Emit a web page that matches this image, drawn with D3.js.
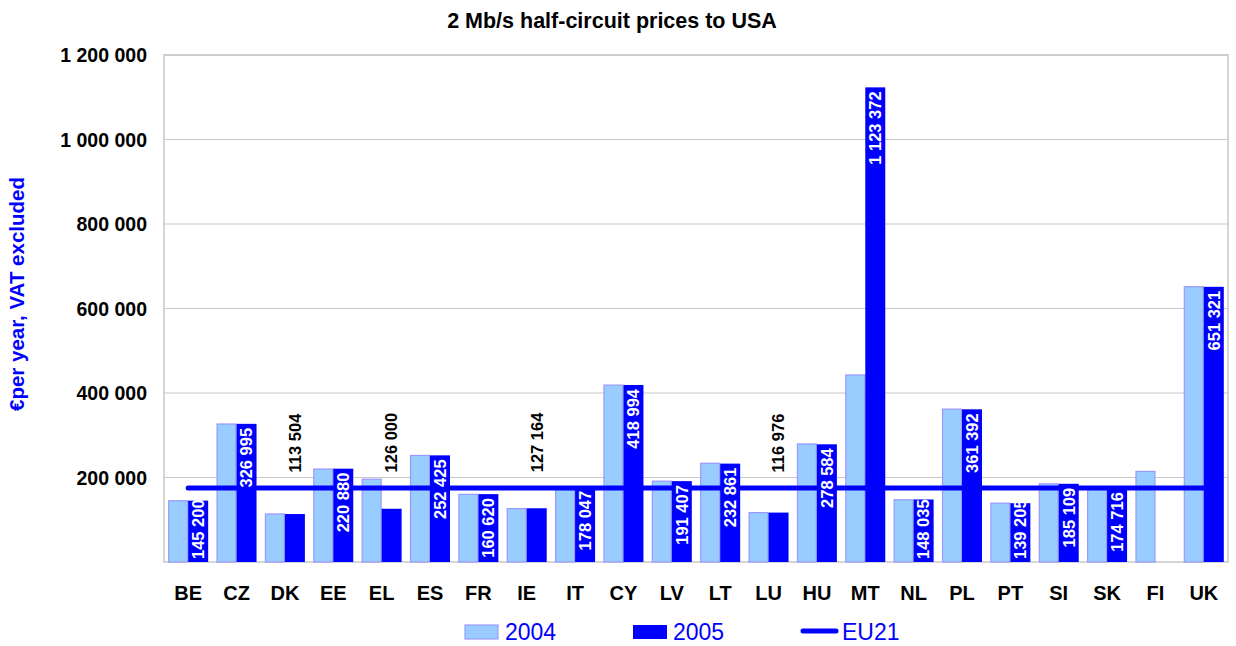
<!DOCTYPE html>
<html>
<head>
<meta charset="utf-8">
<script src="https://cdn.jsdelivr.net/npm/d3@7/dist/d3.min.js"></script>
<style>
  html, body { margin: 0; padding: 0; background: #ffffff; }
  svg { display: block; font-family: "Liberation Sans", Arial, sans-serif; }
</style>
</head>
<body>
<svg id="chart" width="1236" height="646"></svg>
<script>
// Countries on the category axis
const categories = ["BE","CZ","DK","EE","EL","ES","FR","IE","IT","CY","LV","LT","LU","HU","MT","NL","PL","PT","SI","SK","FI","UK"];
// Annual price of a 2 Mb/s half-circuit, EUR, VAT excluded
const prices2004 = [145000, 326600, 113700, 220100, 196000, 252200, 160100, 126500, 172000, 418700, 191300, 233700, 116900, 279400, 442700, 147300, 361800, 139300, 184900, 172000, 214500, 651600];
const prices2005 = [145200, 326995, 113504, 220880, 126000, 252425, 160620, 127164, 178047, 418994, 191407, 232861, 116976, 278584, 1123372, 148035, 361392, 139205, 185109, 174716, null, 651321];
// EU21 average
const eu21 = 175300;
const seriesNames = ["2004", "2005", "EU21"];
const yTicks = [200000, 400000, 600000, 800000, 1000000, 1200000];

const svg = d3.select("#chart");
const M = { left: 164, right: 1228, top: 55, bottom: 562 };

const fmt = d3.formatLocale({ decimal: ",", thousands: " ", grouping: [3], currency: ["", "€"] }).format(",d");

const x = d3.scaleBand().domain(categories).range([M.left, M.right]).paddingInner(0).paddingOuter(0);
const x1 = d3.scaleBand().domain(["2004", "2005"]).range([0, x.bandwidth()]).paddingInner(0).paddingOuter(0.21);
const y = d3.scaleLinear().domain([0, 1200000]).range([M.bottom, M.top]);

// Title
svg.append("text")
  .attr("x", 612).attr("y", 28)
  .attr("text-anchor", "middle")
  .style("font-weight", "bold").style("font-size", "21.5px")
  .text("2 Mb/s half-circuit prices to USA");

// Gridlines
svg.append("g")
  .selectAll("line").data(yTicks).join("line")
  .attr("x1", M.left).attr("x2", M.right)
  .attr("y1", d => y(d)).attr("y2", d => y(d))
  .attr("stroke", "#c8c8c8").attr("stroke-width", 1.2);

// Plot frame
svg.append("rect")
  .attr("x", M.left).attr("y", M.top)
  .attr("width", M.right - M.left).attr("height", M.bottom - M.top)
  .attr("fill", "none").attr("stroke", "#c8c8c8").attr("stroke-width", 1.5);

// Y axis labels
const yAxis = d3.axisLeft(y).tickValues(yTicks).tickSize(0).tickPadding(0).tickFormat(fmt);
const gy = svg.append("g").attr("transform", `translate(${147},0)`).call(yAxis);
gy.select(".domain").remove();
gy.selectAll("text").style("font-size", "19.5px").style("font-weight", "bold").attr("fill", "#000").attr("font-family", "Liberation Sans, Arial, sans-serif").attr("dy", "0.35em");

// Y axis title
svg.append("text")
  .attr("transform", "translate(24,294) rotate(-90)")
  .attr("text-anchor", "middle")
  .style("font-weight", "bold").style("font-size", "20.5px")
  .attr("fill", "#0000ff")
  .text("€per year, VAT excluded");

// X axis labels
const xAxis = d3.axisBottom(x).tickSize(0).tickPadding(0);
const gx = svg.append("g").attr("transform", `translate(0,${M.bottom})`).call(xAxis);
gx.select(".domain").remove();
gx.selectAll("text").style("font-size", "20px").style("font-weight", "bold").attr("fill", "#000").attr("font-family", "Liberation Sans, Arial, sans-serif").attr("dy", "38px").attr("y", 0);

// Bars
const rows = categories.map((c, i) => ({ c, v04: prices2004[i], v05: prices2005[i] }));
const groups = svg.append("g").selectAll("g").data(rows).join("g")
  .attr("transform", d => `translate(${x(d.c)},0)`);

groups.filter(d => d.v04 != null).append("rect")
  .attr("x", x1("2004") + 0.5).attr("width", x1.bandwidth() - 1)
  .attr("y", d => y(d.v04)).attr("height", d => y(0) - y(d.v04))
  .attr("fill", "#99ccff").attr("stroke", "#9999ff").attr("stroke-width", 1.2);

groups.filter(d => d.v05 != null).append("rect")
  .attr("x", x1("2005")).attr("width", x1.bandwidth())
  .attr("y", d => y(d.v05)).attr("height", d => y(0) - y(d.v05))
  .attr("fill", "#0000ff");

// EU21 line
svg.append("line")
  .attr("x1", x(categories[0]) + x.bandwidth() / 2)
  .attr("x2", x(categories[categories.length - 1]) + x.bandwidth() / 2)
  .attr("y1", y(eu21)).attr("y2", y(eu21))
  .attr("stroke", "#0000ff").attr("stroke-width", 5).attr("stroke-linecap", "round");

// 2005 value labels
const labelG = svg.append("g");
const outsideBase = y(212000);
rows.forEach(d => {
  if (d.v05 == null) return;
  const cx = x(d.c) + x1("2005") + x1.bandwidth() / 2;
  const t = labelG.append("text")
    .style("font-weight", "bold").style("font-size", "16.5px")
    .attr("dy", "0.35em")
    .text(fmt(d.v05));
  const len = t.node().getComputedTextLength();
  const top = y(d.v05);
  if (d.v05 < 130000) {
    // small bars: label sits above the bar, clear of the average line
    t.attr("fill", "#000").attr("text-anchor", "start")
     .attr("transform", `translate(${cx},${Math.min(outsideBase, top - 36)}) rotate(-90)`);
  } else {
    let end = top + 4;
    if (end + len > M.bottom - 3) end = M.bottom - 3 - len;
    t.attr("fill", "#fff").attr("text-anchor", "end")
     .attr("transform", `translate(${cx},${end}) rotate(-90)`);
  }
});

// Legend
const lg = svg.append("g");
lg.append("rect").attr("x", 465).attr("y", 625).attr("width", 33).attr("height", 14)
  .attr("fill", "#99ccff").attr("stroke", "#9999ff").attr("stroke-width", 1.2);
lg.append("rect").attr("x", 633).attr("y", 625).attr("width", 34).attr("height", 14)
  .attr("fill", "#0000ff");
lg.append("line").attr("x1", 803).attr("x2", 836).attr("y1", 631).attr("y2", 631)
  .attr("stroke", "#0000ff").attr("stroke-width", 5).attr("stroke-linecap", "round");
const legendX = [505, 673, 842];
lg.selectAll("text").data(seriesNames).join("text")
  .attr("x", (d, i) => legendX[i]).attr("y", 640)
  .style("font-size", "23px").attr("fill", "#0000ff")
  .text(d => d);
</script>
</body>
</html>
